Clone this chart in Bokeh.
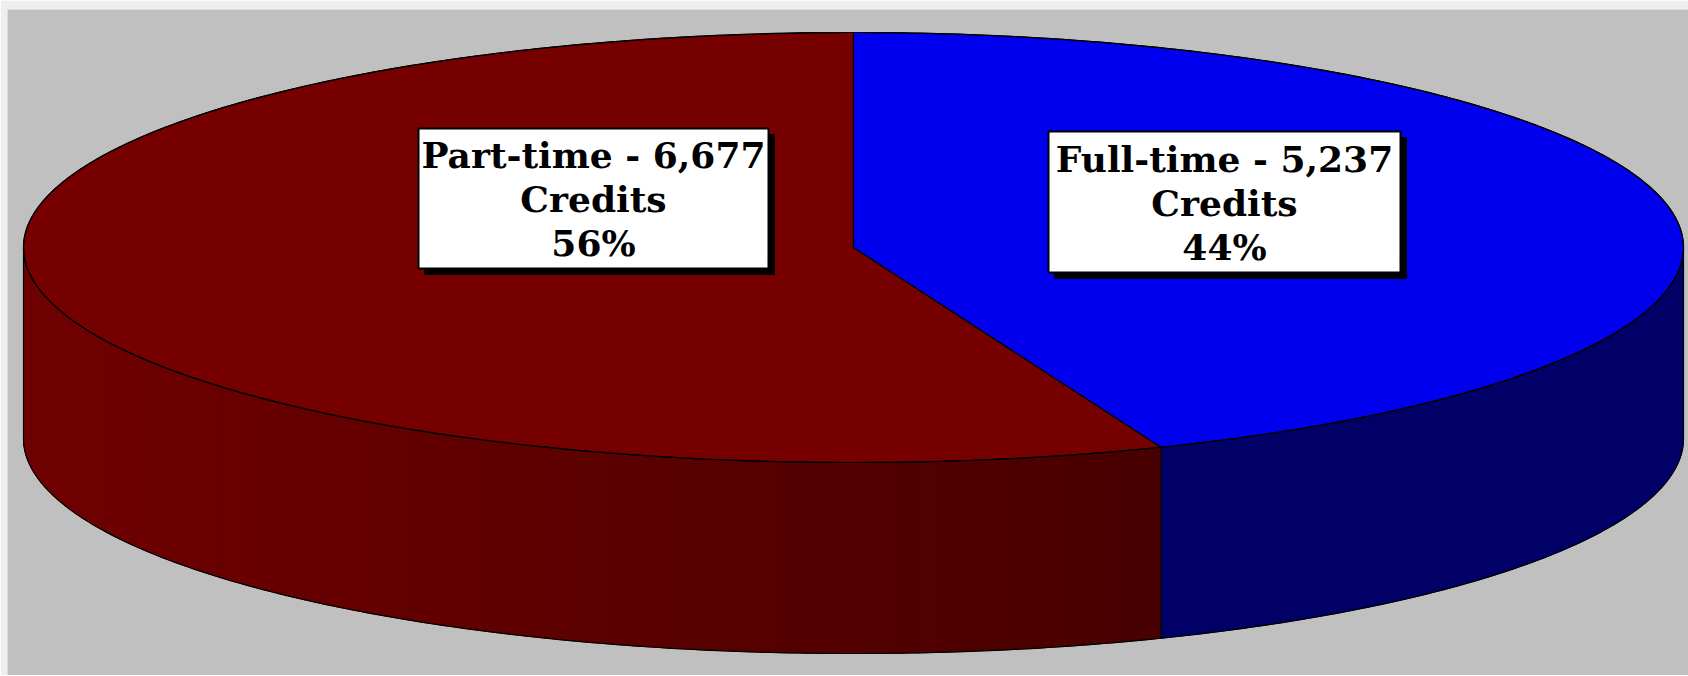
import numpy as np
from bokeh.plotting import figure
from bokeh.models import Range1d
from bokeh.core.properties import value
from bokeh.embed import file_html
from bokeh.resources import INLINE

# ---- data ----
categories = ["Part-time", "Full-time"]
credits = [6677, 5237]
unit_label = "Credits"
top_colors = ["#760000", "#0000ee"]
side_colors = ["#6e0000", "#000066"]

W, H = 1688, 675
L0, T0 = 7, 9
cx, cy, rx, ry, depth = 853.0, 247.0, 830.0, 215.0, 191.0

total = float(sum(credits))
fracs = [c / total for c in credits]
pcts = [int(round(f * 100)) for f in fracs]

# Full-time goes clockwise from 12 o'clock, Part-time fills the rest
sweep_full = 360.0 * fracs[1]
b = 90.0 - sweep_full          # boundary angle (deg)
b360 = b + 360.0

def pts(th_deg, dy=0.0):
    t = np.radians(np.asarray(th_deg, dtype=float))
    return cx + rx * np.cos(t), cy - ry * np.sin(t) + dy

p = figure(width=W, height=H, x_range=Range1d(L0, W), y_range=Range1d(H, T0),
           output_backend="svg", toolbar_location=None,
           min_border_left=L0, min_border_top=T0, min_border_right=0, min_border_bottom=0)
p.axis.visible = False
p.grid.visible = False
p.outline_line_color = None
p.background_fill_color = "#c0c0c0"
p.border_fill_color = "#eeeeee"

# ---- side walls ----
xs, ys, cols = [], [], []
N = 160
edges = np.linspace(180.0, b360, N + 1)
x_left, x_right = cx - rx, pts(b360)[0]
for i in range(N):
    th = np.linspace(edges[i], edges[i + 1], 4)
    tx, ty = pts(th)
    bx, by = pts(th[::-1], depth)
    xs.append(list(tx) + list(bx))
    ys.append(list(ty) + list(by))
    xm = float(np.mean(tx))
    f = (xm - x_left) / (x_right - x_left)
    r = int(round(0x70 - f * (0x70 - 0x48)))
    cols.append("#%02x0000" % r)
p.patches(xs, ys, fill_color=cols, line_color=cols, line_width=1)

th = np.linspace(b360, 360.0, 80)
tx, ty = pts(th)
bx, by = pts(th[::-1], depth)
p.patch(list(tx) + list(bx), list(ty) + list(by),
        fill_color=side_colors[1], line_color=side_colors[1], line_width=1)

# ---- top face wedges ----
th_full = np.linspace(b, 90.0, 200)
fx, fy = pts(th_full)
th_part = np.linspace(90.0, b360, 300)
px_, py_ = pts(th_part)
p.patches([[cx] + list(px_), [cx] + list(fx)],
          [[cy] + list(py_), [cy] + list(fy)],
          fill_color=top_colors, line_color="black", line_width=1.2)

# ---- outlines ----
th_all = np.linspace(0, 360, 600)
ex, ey = pts(th_all)
p.line(ex, ey, line_color="black", line_width=1.2)
th_bot = np.linspace(180.0, 360.0, 300)
bx, by = pts(th_bot, depth)
p.line(bx, by, line_color="black", line_width=1.2)
for a in (180.0, b360, 360.0):
    x0, y0 = pts(a)
    p.line([x0, x0], [y0, y0 + depth], line_color="black", line_width=1.2)

# ---- labels ----
boxes = {  # left, right, top, bottom
    "Part-time": (418, 768, 128, 268),
    "Full-time": (1048, 1400, 131, 272),
}
baselines = {"Part-time": (154, 198, 242), "Full-time": (158, 202, 246)}
sh = 6
for cat, val, pc in zip(categories, credits, pcts):
    l, r, t, bt = boxes[cat]
    p.quad(left=l + sh, right=r + sh, top=t + sh, bottom=bt + sh,
           fill_color="black", line_color="black")
    p.quad(left=l, right=r, top=t, bottom=bt,
           fill_color="white", line_color="black", line_width=2)
    lines = [f"{cat} - {val:,}", unit_label, f"{pc}%"]
    xc = (l + r) / 2.0
    p.text(x=[xc] * 3, y=list(baselines[cat]), text=lines,
           text_font=value("DejaVu Serif"), text_font_style="bold",
           text_font_size="36px", text_align="center",
           text_baseline="alphabetic", text_color="black")

open("out.html", "w").write(file_html(p, INLINE))
